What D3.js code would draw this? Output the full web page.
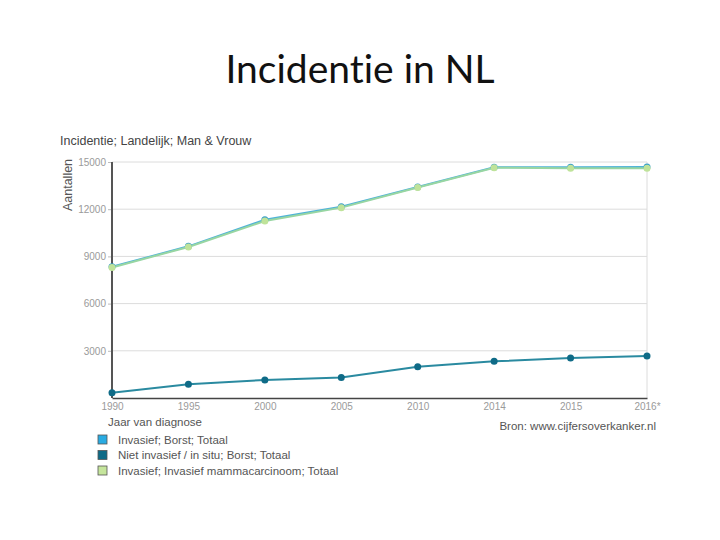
<!DOCTYPE html>
<html>
<head>
<meta charset="utf-8">
<script src="https://cdn.jsdelivr.net/npm/d3@7"></script>
<style>
  body { margin: 0; background: #fff; }
</style>
</head>
<body>
<div id="chart"></div>
<script>
// Chart data
const years = ["1990", "1995", "2000", "2005", "2010", "2014", "2015", "2016*"];
const invasiefBorst = [8340, 9640, 11330, 12160, 13410, 14670, 14670, 14690];
const nietInvasief = [340, 870, 1150, 1300, 1990, 2330, 2540, 2670];
const invasiefMamma = [8300, 9600, 11250, 12100, 13380, 14640, 14600, 14600];
const yTickValues = [3000, 6000, 9000, 12000, 15000];
const seriesNames = [
  "Invasief; Borst; Totaal",
  "Niet invasief / in situ; Borst; Totaal",
  "Invasief; Invasief mammacarcinoom; Totaal"
];

const width = 720;
const height = 540;
const marginLeft = 112;
const marginRight = 73;
const marginTop = 162;
const plotBottom = 398;

const series = [
  { name: seriesNames[0], values: invasiefBorst, line: "#4fb3d8", dot: "#3a9fc9" },
  { name: seriesNames[1], values: nietInvasief, line: "#2a8aa0", dot: "#0f6b87" },
  { name: seriesNames[2], values: invasiefMamma, line: "#98d6a2", dot: "#bfe39a" }
];
const legendColors = ["#29abe2", "#0f6b87", "#c5e59c"];

const svg = d3.select("#chart")
  .append("svg")
  .attr("width", width)
  .attr("height", height)
  .attr("viewBox", [0, 0, width, height]);

// Slide title
svg.append("text")
  .attr("x", 360)
  .attr("y", 83)
  .attr("text-anchor", "middle")
  .style("font-family", "Lato, 'Open Sans', sans-serif")
  .style("font-size", "39px")
  .style("font-variant-ligatures", "none")
  .attr("fill", "#111")
  .text("Incidentie in NL");

const x = d3.scalePoint()
  .domain(years)
  .range([marginLeft, width - marginRight]);

const y = d3.scaleLinear()
  .domain([0, 15000])
  .range([plotBottom, marginTop]);

const font = "'Liberation Sans', Arial, sans-serif";

// Grid lines
svg.append("g")
  .selectAll("line")
  .data(yTickValues)
  .join("line")
  .attr("x1", marginLeft)
  .attr("x2", width - marginRight)
  .attr("y1", d => y(d))
  .attr("y2", d => y(d))
  .attr("stroke", "#dcdcdc")
  .attr("stroke-width", 1);

svg.append("line")
  .attr("x1", width - marginRight)
  .attr("x2", width - marginRight)
  .attr("y1", y(15000))
  .attr("y2", plotBottom)
  .attr("stroke", "#dcdcdc");

// Y axis
const yAxis = svg.append("g")
  .attr("transform", `translate(${marginLeft},0)`)
  .call(d3.axisLeft(y).tickValues(yTickValues).tickFormat(d3.format("d")).tickSize(4).tickPadding(2));
yAxis.select(".domain").remove();
yAxis.selectAll(".tick line").attr("stroke", "#bbb");
yAxis.selectAll(".tick text")
  .attr("fill", "#9a9a9a")
  .style("font-family", font)
  .style("font-size", "10px");

svg.append("line")
  .attr("x1", marginLeft)
  .attr("x2", marginLeft)
  .attr("y1", y(15000))
  .attr("y2", plotBottom)
  .attr("stroke", "#555")
  .attr("stroke-width", 2);

// X axis
const xAxis = svg.append("g")
  .attr("transform", `translate(0,${plotBottom})`)
  .call(d3.axisBottom(x).tickSize(0).tickPadding(5));
xAxis.select(".domain").attr("stroke", "#444").attr("stroke-width", 1.5);
xAxis.selectAll(".tick text")
  .attr("fill", "#9a9a9a")
  .style("font-family", font)
  .style("font-size", "10px");

// Lines
const line = d3.line()
  .x((d, i) => x(years[i]))
  .y(d => y(d));

series.forEach(s => {
  svg.append("path")
    .datum(s.values)
    .attr("fill", "none")
    .attr("stroke", s.line)
    .attr("stroke-width", 2)
    .attr("d", line);
});

series.forEach(s => {
  svg.append("g")
    .selectAll("circle")
    .data(s.values)
    .join("circle")
    .attr("cx", (d, i) => x(years[i]))
    .attr("cy", d => y(d))
    .attr("r", 3.5)
    .attr("fill", s.dot);
});

// Chart labels
svg.append("text")
  .attr("x", 60)
  .attr("y", 145)
  .style("font-family", font)
  .style("font-size", "12.5px")
  .attr("fill", "#444")
  .text("Incidentie; Landelijk; Man & Vrouw");

svg.append("text")
  .attr("transform", "rotate(-90)")
  .attr("x", -185)
  .attr("y", 72)
  .attr("text-anchor", "middle")
  .style("font-family", font)
  .style("font-size", "12.5px")
  .attr("fill", "#555")
  .text("Aantallen");

svg.append("text")
  .attr("x", 108)
  .attr("y", 426)
  .style("font-family", font)
  .style("font-size", "11.5px")
  .attr("fill", "#555")
  .text("Jaar van diagnose");

svg.append("text")
  .attr("x", 656)
  .attr("y", 430)
  .attr("text-anchor", "end")
  .style("font-family", font)
  .style("font-size", "11.5px")
  .attr("fill", "#555")
  .text("Bron: www.cijfersoverkanker.nl");

// Legend
const legend = svg.append("g")
  .selectAll("g")
  .data(seriesNames)
  .join("g")
  .attr("transform", (d, i) => `translate(98,${435 + i * 15.5})`);

legend.append("rect")
  .attr("width", 9)
  .attr("height", 9)
  .attr("fill", (d, i) => legendColors[i])
  .attr("stroke", "#555")
  .attr("stroke-width", 0.8);

legend.append("text")
  .attr("x", 20)
  .attr("y", 8.5)
  .style("font-family", font)
  .style("font-size", "11.5px")
  .attr("fill", "#555")
  .text(d => d);
</script>
</body>
</html>
